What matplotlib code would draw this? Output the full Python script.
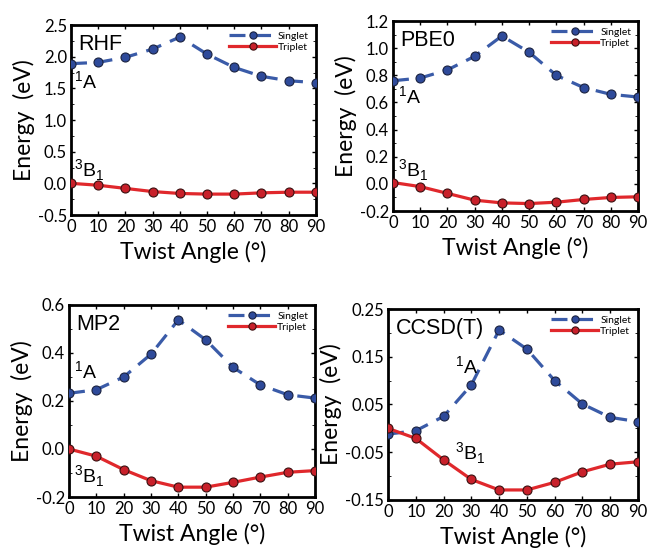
import matplotlib
matplotlib.use("Agg")
import matplotlib.pyplot as plt
from matplotlib.ticker import AutoMinorLocator

plt.rcParams['font.family'] = ['Lato', 'DejaVu Sans']
plt.rcParams['mathtext.fontset'] = 'custom'
plt.rcParams['mathtext.rm'] = 'Liberation Sans'

angles = [0, 10, 20, 30, 40, 50, 60, 70, 80, 90]

rhf_singlet = [1.89, 1.91, 1.99, 2.12, 2.31, 2.04, 1.83, 1.69, 1.62, 1.59]
rhf_triplet = [0.0, -0.03, -0.08, -0.13, -0.16, -0.17, -0.17, -0.15, -0.14, -0.14]

pbe0_singlet = [0.76, 0.78, 0.84, 0.94, 1.09, 0.97, 0.80, 0.71, 0.66, 0.64]
pbe0_triplet = [0.01, -0.02, -0.07, -0.12, -0.14, -0.145, -0.135, -0.115, -0.10, -0.095]

mp2_singlet = [0.232, 0.247, 0.30, 0.395, 0.538, 0.455, 0.34, 0.267, 0.226, 0.212]
mp2_triplet = [0.0, -0.03, -0.086, -0.132, -0.159, -0.159, -0.139, -0.117, -0.097, -0.09]

ccsdt_singlet = [-0.012, -0.005, 0.025, 0.091, 0.206, 0.166, 0.10, 0.051, 0.023, 0.014]
ccsdt_triplet = [0.0, -0.021, -0.066, -0.107, -0.129, -0.129, -0.113, -0.091, -0.075, -0.07]

panels = [
    # name, singlet, triplet, ylim, yticks, axes rect, 1A pos, 3B1 pos
    ("RHF", rhf_singlet, rhf_triplet, (-0.5, 2.5),
     [-0.5, 0.0, 0.5, 1.0, 1.5, 2.0, 2.5],
     [0.1086, 0.6098, 0.3744, 0.3448], (1, 1.49), (1, 0.10)),
    ("PBE0", pbe0_singlet, pbe0_triplet, (-0.2, 1.2),
     [-0.2, 0.0, 0.2, 0.4, 0.6, 0.8, 1.0, 1.2],
     [0.6009, 0.6170, 0.3746, 0.3448], (2, 0.59), (2, 0.05)),
    ("MP2", mp2_singlet, mp2_triplet, (-0.2, 0.6),
     [-0.2, 0.0, 0.2, 0.4, 0.6],
     [0.1055, 0.0980, 0.3762, 0.3485], (2, 0.29), (2, -0.142)),
    ("CCSD(T)", ccsdt_singlet, ccsdt_triplet, (-0.15, 0.25),
     [-0.15, -0.05, 0.05, 0.15, 0.25],
     [0.5933, 0.0926, 0.3822, 0.3466], (24, 0.114), (24, -0.065)),
]

blue = '#3a5ba8'
red = '#e0282c'
helv = ['Liberation Sans', 'DejaVu Sans']

fig = plt.figure(figsize=(6.54, 5.51), dpi=100)

for name, singlet, triplet, ylim, yticks, rect, pos_a, pos_b in panels:
    ax = fig.add_axes(rect)
    ax.plot(angles, singlet, color=blue, lw=2.3, dashes=(5, 3),
            marker='o', ms=6.5, mfc='#2e4a9a', mec='#1a2240', mew=0.8,
            label='Singlet', zorder=3)
    ax.plot(angles, triplet, color=red, lw=2.3,
            marker='o', ms=6.5, mfc='#c8202a', mec='#3a1010', mew=0.8,
            label='Triplet', zorder=3)
    ax.set_xlim(0, 90)
    ax.set_ylim(*ylim)
    ax.set_xticks(angles)
    ax.set_yticks(yticks)
    ax.set_yticklabels(['%.2f' % t if name == 'CCSD(T)' else '%.1f' % t for t in yticks])
    ax.yaxis.set_minor_locator(AutoMinorLocator(2))
    ax.tick_params(direction='in', top=True, right=True, labelsize=12,
                   length=3, width=1, pad=3)
    ax.tick_params(which='minor', direction='in', right=True, length=2)
    for s in ax.spines.values():
        s.set_linewidth(2)
    ax.set_xlabel('Twist Angle (°)', fontsize=16.5, labelpad=4)
    ax.set_ylabel('Energy  (eV)', fontsize=16.5, labelpad=2)
    ax.text(0.03, 0.955, name, transform=ax.transAxes, fontsize=15.5,
            va='top', ha='left', family=helv)
    ax.text(pos_a[0], pos_a[1], r'$^1$A', fontsize=14, ha='left',
            va='baseline', family=helv)
    ax.text(pos_b[0], pos_b[1], r'$^3$B$_1$', fontsize=14, ha='left',
            va='baseline', family=helv)
    ax.legend(loc='upper right', frameon=False, fontsize=7.5, handlelength=4.5,
              borderaxespad=0.25, labelspacing=0.15, handletextpad=0.2,
              markerscale=0.8)

fig.savefig('out.png', dpi=100)
